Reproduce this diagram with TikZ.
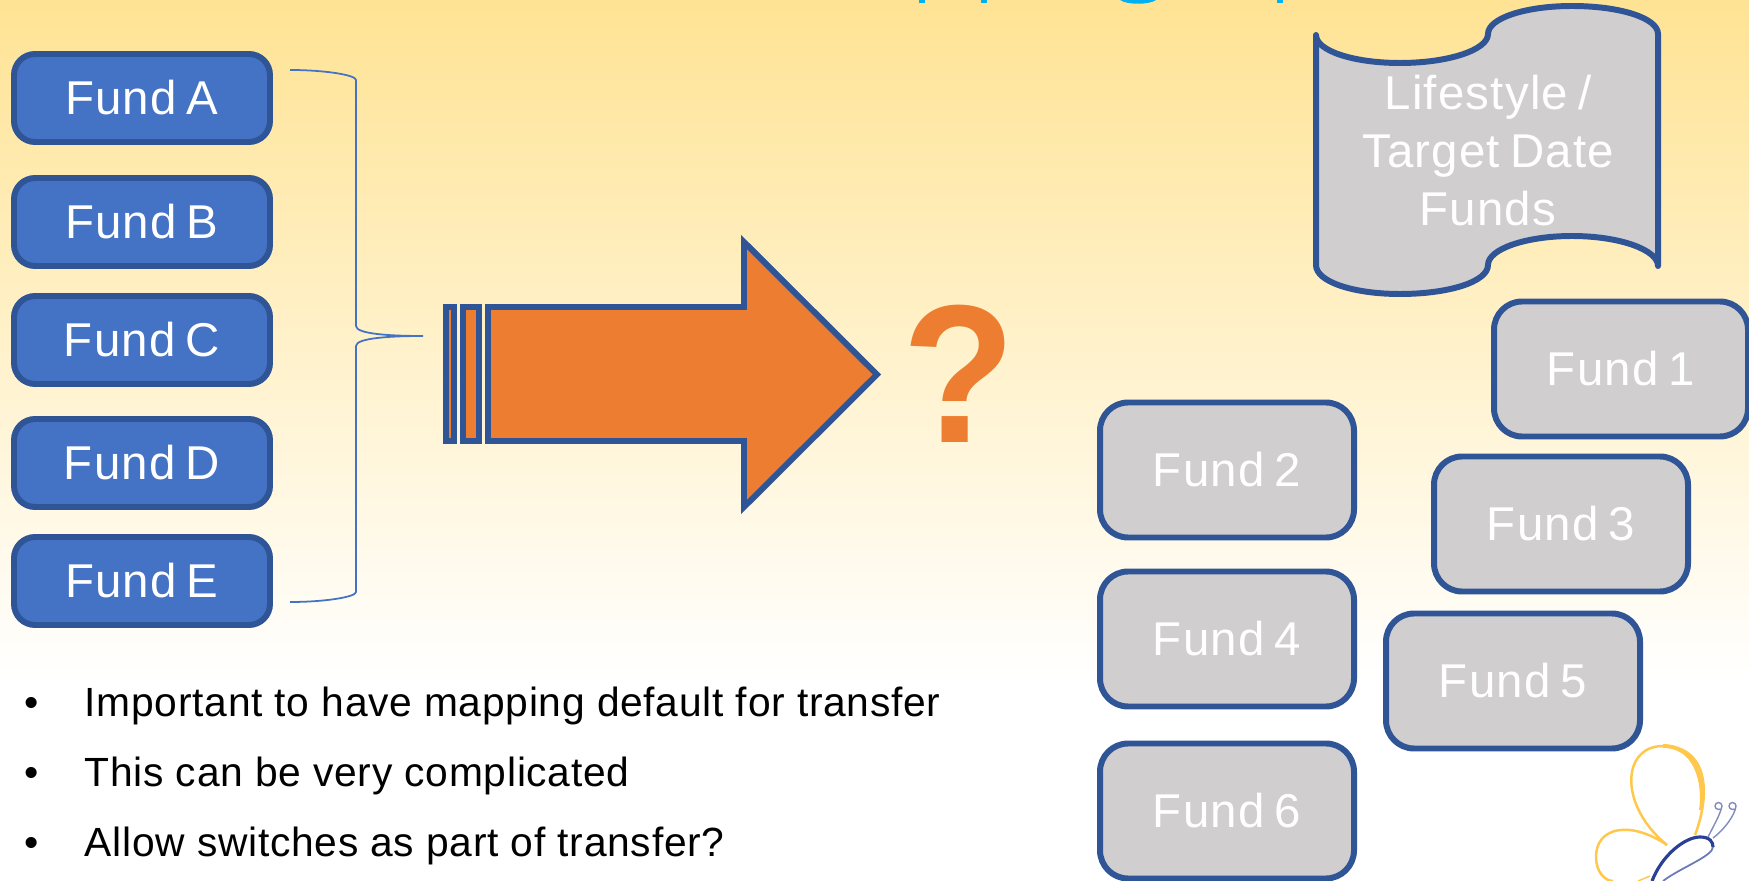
\documentclass[tikz,border=0pt]{standalone}
\usepackage{fontspec}
\usepackage{xcolor}
\setmainfont{Liberation Sans}
\newfontfamily\fundfont{Liberation Sans}[LetterSpace=2.5,WordSpace=0.7]
\newfontfamily\bulletfont{Liberation Sans}[LetterSpace=1.8]
\definecolor{fundblue}{HTML}{4472C4}
\definecolor{edgeblue}{HTML}{2F5597}
\definecolor{fundgrey}{HTML}{D0CECE}
\definecolor{arroworange}{HTML}{ED7D31}
\definecolor{wingyellow}{HTML}{FFC84A}
\definecolor{bodyblue}{HTML}{2B3F96}
\definecolor{skytop}{HTML}{FFE394}
\definecolor{titlecyan}{HTML}{00B0F0}
\tikzset{
  fund/.style={draw=edgeblue, line width=1.7pt, rounded corners=6pt, text=white,
    minimum width=2.56cm, minimum height=0.88cm, inner sep=0pt, font=\fontsize{13.5}{15}\fundfont},
  leftfund/.style={fund, fill=fundblue},
  rightfund/.style={fund, fill=fundgrey, minimum width=2.54cm, minimum height=1.35cm, rounded corners=8pt},
  bullet/.style={anchor=base west, inner sep=0pt, font=\fontsize{11.6}{14}\bulletfont},
  wing/.style={draw=wingyellow, line width=0.7pt},
}
\begin{document}
\begin{tikzpicture}
\useasboundingbox (0,0) rectangle (17.49,-8.81);
\clip (0,0) rectangle (17.49,-8.81);
\fill[white] (0,0) rectangle (17.49,-8.81);
\shade[top color=skytop, bottom color=white] (0,0) rectangle (17.49,-6.8);

% cut-off title at the top edge
\fill[titlecyan] (9.19,0) rectangle (9.25,-0.03);
\fill[titlecyan] (9.81,0) rectangle (9.87,-0.03);
\fill[titlecyan] (11.20,0) .. controls (11.27,-0.05) and (11.49,-0.05) .. (11.56,0) -- cycle;
\fill[titlecyan] (12.77,0) rectangle (12.83,-0.03);

% left column
\node[leftfund] (funda) at (1.42,-0.98) {Fund A};
\node[leftfund] (fundb) at (1.42,-2.22) {Fund B};
\node[leftfund] (fundc) at (1.42,-3.40) {Fund C};
\node[leftfund] (fundd) at (1.42,-4.63) {Fund D};
\node[leftfund] (funde) at (1.42,-5.81) {Fund E};

% brace
\coordinate (bracetop) at (2.90,-0.70);
\coordinate (bracetip) at (4.23,-3.36);
\coordinate (bracebot) at (2.90,-6.02);
\draw[fundblue, line width=0.5pt] (bracetop) .. controls (3.25,-0.70) and (3.56,-0.75) .. (3.56,-0.80)
  -- (3.56,-3.26) .. controls (3.56,-3.34) and (3.90,-3.36) .. (bracetip)
  .. controls (3.90,-3.36) and (3.56,-3.38) .. (3.56,-3.46)
  -- (3.56,-5.92) .. controls (3.56,-5.97) and (3.25,-6.02) .. (bracebot);

% striped arrow
\draw[edgeblue, fill=arroworange, line width=1.7pt] (4.46,-3.07) rectangle (4.54,-4.41);
\draw[edgeblue, fill=arroworange, line width=1.7pt] (4.63,-3.07) rectangle (4.79,-4.41);
\draw[edgeblue, fill=arroworange, line width=1.7pt] (4.88,-3.07) -- (7.44,-3.07) -- (7.44,-2.42)
  -- (8.77,-3.745) -- (7.44,-5.07) -- (7.44,-4.41) -- (4.88,-4.41) -- cycle;
\node[text=arroworange, inner sep=0pt, xscale=0.94, font=\fontsize{56}{56}\bfseries\selectfont] (query) at (9.59,-3.74) {?};

% bullets
\foreach \ypos/\txt in {7.16/Important to have mapping default for transfer,
    7.86/This can be very complicated,
    8.56/Allow switches as part of transfer?} {
  \node[bullet] at (0.24,-\ypos) {\textbullet};
  \node[bullet] at (0.84,-\ypos) {\txt};
}

% lifestyle scroll
\draw[edgeblue, fill=fundgrey, line width=1.7pt, line cap=round, line join=round] (13.16,-0.35)
  .. controls (13.16,-0.51) and (13.54,-0.63) .. (14.00,-0.63)
  .. controls (14.48,-0.63) and (14.88,-0.50) .. (14.88,-0.34)
  .. controls (14.88,-0.18) and (15.26,-0.06) .. (15.72,-0.06)
  .. controls (16.20,-0.06) and (16.58,-0.18) .. (16.58,-0.34)
  -- (16.58,-2.66)
  .. controls (16.58,-2.50) and (16.20,-2.36) .. (15.72,-2.36)
  .. controls (15.26,-2.36) and (14.88,-2.49) .. (14.88,-2.65)
  .. controls (14.88,-2.82) and (14.48,-2.94) .. (14.00,-2.94)
  .. controls (13.54,-2.94) and (13.16,-2.82) .. (13.16,-2.65) -- cycle;
\node[text=white, align=center, inner sep=0pt, font=\fontsize{13.5}{16.5}\fundfont] (lifestyle) at (14.88,-1.51)
  {Lifestyle /\\Target Date\\Funds};

% right group
\node[rightfund] (fundone) at (16.21,-3.69) {Fund 1};
\node[rightfund] (fundtwo) at (12.27,-4.70) {Fund 2};
\node[rightfund] (fundthree) at (15.61,-5.24) {Fund 3};
\node[rightfund] (fundfour) at (12.27,-6.39) {Fund 4};
\node[rightfund] (fundfive) at (15.13,-6.81) {Fund 5};
\node[rightfund] (fundsix) at (12.27,-8.11) {Fund 6};

% butterfly
\draw[wing] (16.95,-8.35) .. controls (17.12,-7.90) and (17.06,-7.46) .. (16.63,-7.46)
  .. controls (16.22,-7.46) and (16.18,-8.05) .. (16.67,-8.45);
\draw[wing, line width=1.1pt] (17.01,-8.10) .. controls (17.05,-7.80) and (16.95,-7.46) .. (16.63,-7.46);
\draw[wing] (16.67,-8.45) .. controls (16.30,-8.20) and (15.96,-8.27) .. (15.96,-8.57)
  .. controls (15.96,-8.72) and (16.05,-8.81) .. (16.13,-8.81);
\draw[wing, line width=0.4pt] (16.50,-8.76) -- (16.38,-8.81);
\draw[bodyblue, line width=0.9pt] (16.52,-8.81) .. controls (16.62,-8.55) and (16.85,-8.37) .. (17.00,-8.37)
  .. controls (17.10,-8.37) and (17.13,-8.42) .. (17.13,-8.47);
\draw[bodyblue!70, line width=0.5pt] (17.13,-8.47) .. controls (17.13,-8.56) and (16.80,-8.68) .. (16.63,-8.81);
\draw[bodyblue!60, line width=0.4pt] (17.08,-8.37) .. controls (17.14,-8.25) and (17.20,-8.15) .. (17.22,-8.06)
  arc (0:300:0.035);
\draw[bodyblue!60, line width=0.4pt] (17.13,-8.38) .. controls (17.24,-8.30) and (17.35,-8.15) .. (17.36,-8.06)
  arc (0:300:0.035);

\end{tikzpicture}
\end{document}
